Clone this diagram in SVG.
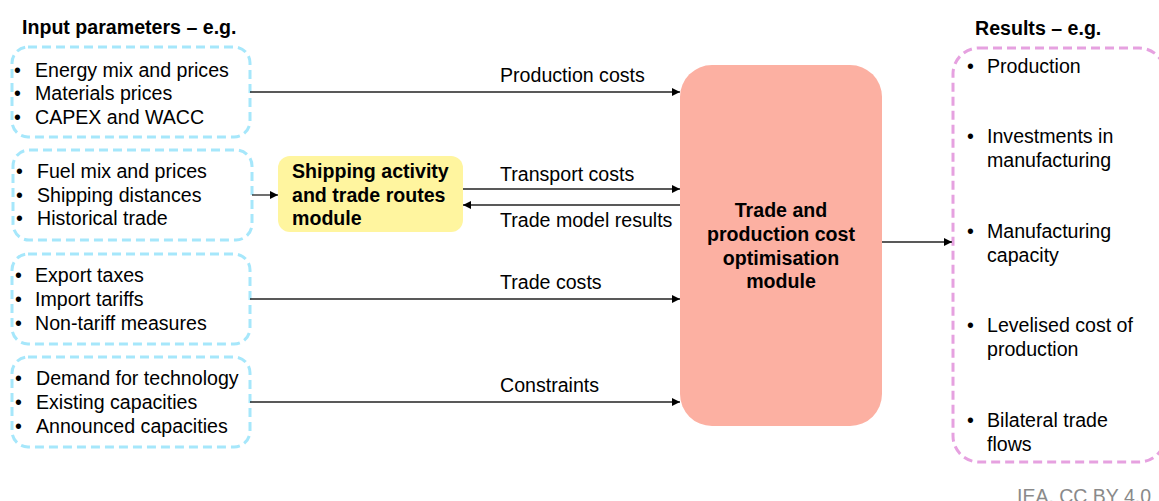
<svg xmlns="http://www.w3.org/2000/svg" width="1159" height="501" viewBox="0 0 1159 501">
<style>
text{font-family:"Liberation Sans",Arial,sans-serif;font-size:19.6px;fill:#000}
.b{font-weight:bold}
.in{fill:none;stroke:#A6E7FB;stroke-width:3;stroke-dasharray:9 5}
.out{fill:none;stroke:#E6A1E0;stroke-width:3;stroke-dasharray:9 5}
.c{stroke:#222;stroke-width:1.3;fill:none;marker-end:url(#ah)}
.ft{fill:#8a8a8a;font-size:19.5px}
</style>
<defs>
<marker id="ah" viewBox="0 0 10 10" refX="10" refY="5" markerWidth="8" markerHeight="8" markerUnits="userSpaceOnUse" orient="auto">
<path d="M0,0 L10,5 L0,10 z" fill="#000"/>
</marker>
</defs>
<text class="b" x="22" y="34">Input parameters – e.g.</text>
<text class="b" x="975" y="35">Results – e.g.</text>

<g id="in1">
<rect class="in" x="12" y="47" width="238" height="90" rx="16"/>
<text x="14" y="77">•</text><text x="35" y="77">Energy mix and prices</text>
<text x="14" y="100">•</text><text x="35" y="100">Materials prices</text>
<text x="14" y="124">•</text><text x="35" y="124">CAPEX and WACC</text>
</g>
<g id="in2">
<rect class="in" x="13" y="150" width="239" height="90" rx="16"/>
<text x="16" y="178">•</text><text x="37" y="178">Fuel mix and prices</text>
<text x="16" y="202">•</text><text x="37" y="202">Shipping distances</text>
<text x="16" y="225">•</text><text x="37" y="225">Historical trade</text>
</g>
<g id="in3">
<rect class="in" x="12" y="254" width="238" height="90" rx="16"/>
<text x="15" y="282">•</text><text x="35" y="282">Export taxes</text>
<text x="15" y="306">•</text><text x="35" y="306">Import tariffs</text>
<text x="15" y="330">•</text><text x="35" y="330">Non-tariff measures</text>
</g>
<g id="in4">
<rect class="in" x="12" y="357" width="238" height="90" rx="16"/>
<text x="15" y="385">•</text><text x="36" y="385">Demand for technology</text>
<text x="15" y="409">•</text><text x="36" y="409">Existing capacities</text>
<text x="15" y="433">•</text><text x="36" y="433">Announced capacities</text>
</g>
<g id="ship">
<rect x="278" y="156" width="185" height="76" rx="12" fill="#FFF59F"/>
<text class="b" x="292" y="178">Shipping activity</text>
<text class="b" x="292" y="202">and trade routes</text>
<text class="b" x="292" y="225">module</text>
</g>
<g id="core">
<rect x="680" y="65" width="202" height="361" rx="32" fill="#FCB0A2"/>
<text class="b" text-anchor="middle" x="781" y="217">Trade and</text>
<text class="b" text-anchor="middle" x="781" y="241">production cost</text>
<text class="b" text-anchor="middle" x="781" y="265">optimisation</text>
<text class="b" text-anchor="middle" x="781" y="288">module</text>
</g>
<g id="results">
<rect class="out" x="953" y="48" width="212" height="414" rx="26"/>
<text x="967" y="73">•</text><text x="987" y="73">Production</text>
<text x="967" y="143">•</text><text x="987" y="143">Investments in</text>
<text x="987" y="167">manufacturing</text>
<text x="967" y="238">•</text><text x="987" y="238">Manufacturing</text>
<text x="987" y="262">capacity</text>
<text x="967" y="332">•</text><text x="987" y="332">Levelised cost of</text>
<text x="987" y="356">production</text>
<text x="967" y="427">•</text><text x="987" y="427">Bilateral trade</text>
<text x="987" y="451">flows</text>
</g>
<g id="connectors">
<line class="c" x1="250" y1="92" x2="680" y2="92"/>
<text x="500" y="82">Production costs</text>
<line class="c" x1="252" y1="195" x2="278" y2="195"/>
<line class="c" x1="463" y1="189" x2="680" y2="189"/>
<text x="500" y="181">Transport costs</text>
<line class="c" x1="680" y1="205" x2="463" y2="205"/>
<text x="500" y="227">Trade model results</text>
<line class="c" x1="250" y1="299" x2="680" y2="299"/>
<text x="500" y="289">Trade costs</text>
<line class="c" x1="250" y1="402" x2="680" y2="402"/>
<text x="500" y="392">Constraints</text>
<line class="c" x1="882" y1="242" x2="952" y2="242"/>
</g>
<text class="ft" x="1017" y="503">IEA. CC BY 4.0</text>
</svg>
